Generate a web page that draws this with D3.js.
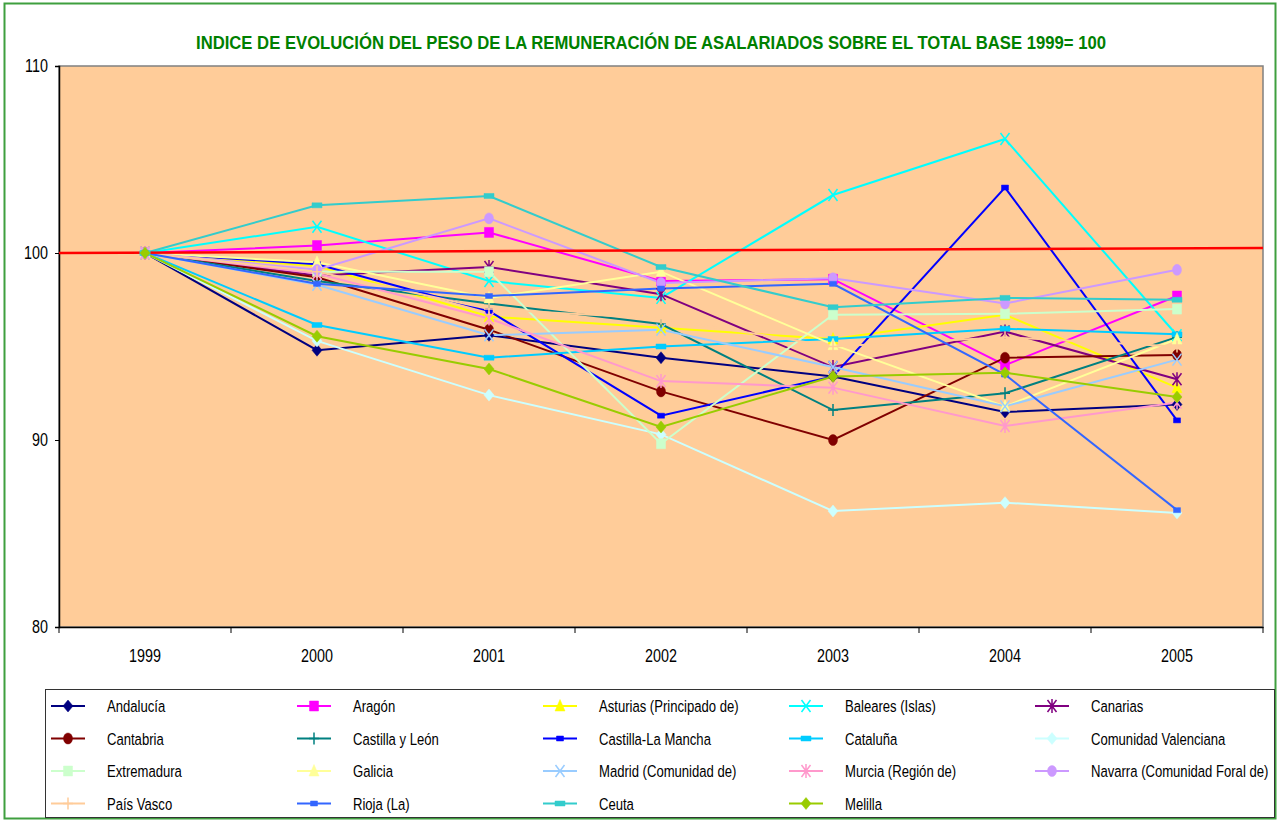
<!DOCTYPE html>
<html>
<head>
<meta charset="utf-8">
<script src="https://cdn.jsdelivr.net/npm/d3@7"></script>
<style>
  html, body { margin: 0; padding: 0; background: #fff; }
  svg { display: block; }
  text { font-family: "Liberation Sans", Arial, sans-serif; }
</style>
</head>
<body>
<svg id="chart" width="1279" height="821"></svg>
<script>
// --- Données ---
const years = ["1999", "2000", "2001", "2002", "2003", "2004", "2005"];
const yTicks = [80, 90, 100, 110];
const refLine = [100, 100.27];

const andalucia   = [100, 94.8, 95.6, 94.4, 93.4, 91.5, 91.9];
const aragon      = [100, 100.4, 101.1, 98.5, 98.6, 94.0, 97.7];
const asturias    = [100, 99.3, 96.6, 96.0, 95.4, 96.7, 92.8];
const baleares    = [100, 101.4, 98.5, 97.6, 103.1, 106.1, 95.6];
const canarias    = [100, 98.8, 99.25, 97.8, 93.9, 95.8, 93.25];
const cantabria   = [100, 98.7, 95.9, 92.6, 90.0, 94.4, 94.55];
const castillaLeon = [100, 98.5, 97.3, 96.2, 91.6, 92.5, 95.5];
const castillaMancha = [100, 99.4, 96.9, 91.3, 93.4, 103.5, 91.05];
const cataluna    = [100, 96.15, 94.4, 95.0, 95.4, 95.95, 95.65];
const valenciana  = [100, 95.3, 92.4, 90.3, 86.2, 86.65, 86.1];
const extremadura = [100, 99.0, 99.0, 89.8, 96.7, 96.75, 97.0];
const galicia     = [100, 99.5, 97.6, 99.0, 95.1, 91.8, 95.4];
const madrid      = [100, 98.3, 95.6, 95.9, 93.9, 91.8, 94.3];
const murcia      = [100, 98.9, 96.5, 93.15, 92.8, 90.75, 92.0];
const navarra     = [100, 99.1, 101.85, 98.4, 98.65, 97.3, 99.1];
const paisVasco   = [100, 99.0, 97.0, 96.5, 95.0, 95.5, 95.0];
const rioja       = [100, 98.35, 97.7, 98.1, 98.35, 93.5, 86.25];
const ceuta       = [100, 102.55, 103.05, 99.25, 97.1, 97.6, 97.5];
const melilla     = [100, 95.55, 93.8, 90.7, 93.4, 93.6, 92.3];

const series = [
  { name: "Andalucía", values: andalucia, color: "#000080", marker: "diamond" },
  { name: "Aragón", values: aragon, color: "#FF00FF", marker: "square" },
  { name: "Asturias (Principado de)", values: asturias, color: "#FFFF00", marker: "triangle" },
  { name: "Baleares (Islas)", values: baleares, color: "#00FFFF", marker: "x" },
  { name: "Canarias", values: canarias, color: "#800080", marker: "asterisk" },
  { name: "Cantabria", values: cantabria, color: "#800000", marker: "circle" },
  { name: "Castilla y León", values: castillaLeon, color: "#008080", marker: "plus" },
  { name: "Castilla-La Mancha", values: castillaMancha, color: "#0000FF", marker: "dashSmall" },
  { name: "Cataluña", values: cataluna, color: "#00CCFF", marker: "dash" },
  { name: "Comunidad Valenciana", values: valenciana, color: "#CCFFFF", marker: "diamond" },
  { name: "Extremadura", values: extremadura, color: "#CCFFCC", marker: "square" },
  { name: "Galicia", values: galicia, color: "#FFFF99", marker: "triangle" },
  { name: "Madrid (Comunidad de)", values: madrid, color: "#99CCFF", marker: "x" },
  { name: "Murcia (Región de)", values: murcia, color: "#FF99CC", marker: "asterisk" },
  { name: "Navarra (Comunidad Foral de)", values: navarra, color: "#CC99FF", marker: "circle" },
  { name: "País Vasco", values: paisVasco, color: "#FFCC99", marker: "plus" },
  { name: "Rioja (La)", values: rioja, color: "#3366FF", marker: "dashSmall" },
  { name: "Ceuta", values: ceuta, color: "#33CCCC", marker: "dash" },
  { name: "Melilla", values: melilla, color: "#99CC00", marker: "diamond" }
];

// Compression horizontale des textes (police étroite non disponible)
function narrow(sel, factor) {
  sel.each(function () {
    const t = d3.select(this);
    const x0 = +t.attr("x") || 0;
    t.attr("x", x0 / factor).attr("transform", `scale(${factor},1)`);
  });
}

// --- Mise en page ---
const svg = d3.select("#chart");
const plot = { left: 59, right: 1263, top: 66, bottom: 627 };

// Cadre extérieur vert
svg.append("rect")
  .attr("x", 4.5).attr("y", 3.5).attr("width", 1271).attr("height", 815)
  .attr("fill", "#fff").attr("stroke", "#3f9f3f").attr("stroke-width", 2);

const x = d3.scaleBand().domain(years).range([plot.left, plot.right]);
const xc = d => x(d) + x.bandwidth() / 2;
const y = d3.scaleLinear().domain([80, 110]).range([plot.bottom, plot.top]);

// Fond de la zone de tracé
svg.append("rect")
  .attr("x", plot.left).attr("y", plot.top)
  .attr("width", plot.right - plot.left).attr("height", plot.bottom - plot.top)
  .attr("fill", "#FFCC99").attr("stroke", "#808080").attr("stroke-width", 1.5);

// Titre
svg.append("text")
  .attr("x", 651).attr("y", 49)
  .attr("text-anchor", "middle")
  .attr("fill", "#008000")
  .attr("font-weight", "bold")
  .attr("font-size", 18.5)
  .attr("textLength", 910)
  .attr("lengthAdjust", "spacingAndGlyphs")
  .text("INDICE DE EVOLUCIÓN DEL PESO DE LA REMUNERACIÓN DE ASALARIADOS SOBRE EL TOTAL BASE 1999= 100");

// Axe Y
const yAxis = svg.append("g")
  .attr("transform", `translate(${plot.left},0)`)
  .call(d3.axisLeft(y).tickValues(yTicks).tickSize(4).tickPadding(7).tickFormat(d3.format("d")));
yAxis.select(".domain").attr("stroke", "#000").attr("stroke-width", 1.5);
yAxis.selectAll(".tick line").attr("stroke", "#000");
yAxis.selectAll("text").attr("font-size", 17.5).attr("fill", "#000")
  .style("font-family", "'Liberation Sans', Arial, sans-serif")
  .call(narrow, 0.82);

// Axe X (étiquettes centrées, graduations entre catégories)
const xAxis = svg.append("g")
  .attr("transform", `translate(0,${plot.bottom})`)
  .call(d3.axisBottom(x).tickSize(0).tickPadding(23));
xAxis.select(".domain").attr("stroke", "#000").attr("stroke-width", 1.5);
xAxis.selectAll("text").attr("font-size", 17.5).attr("fill", "#000")
  .style("font-family", "'Liberation Sans', Arial, sans-serif")
  .call(narrow, 0.82);

const boundaries = d3.range(years.length + 1).map(i => x.range()[0] + i * x.step());
svg.append("g").selectAll("line")
  .data(boundaries)
  .join("line")
  .attr("x1", d => d).attr("x2", d => d)
  .attr("y1", plot.bottom).attr("y2", plot.bottom + 6)
  .attr("stroke", "#000");

// Symboles
function markerPath(type) {
  switch (type) {
    case "diamond": return "M0,-6L5,0L0,6L-5,0Z";
    case "square": return "M-4.5,-5H4.5V5H-4.5Z";
    case "triangle": return "M0,-6.5L5,5L-5,5Z";
    case "circle": return "M-4.5,0A4.5,5.5 0 1,0 4.5,0A4.5,5.5 0 1,0 -4.5,0Z";
    case "x": return "M-4.5,-6L4.5,6M4.5,-6L-4.5,6";
    case "plus": return "M-5,0H5M0,-6V6";
    case "asterisk": return "M-4.5,-6L4.5,6M4.5,-6L-4.5,6M0,-7V7";
    case "dash": return "M-5,-2.5H5V2.5H-5Z";
    case "dashSmall": return "M-3.5,-2.5H3.5V2.5H-3.5Z";
  }
}
const isStroke = t => t === "x" || t === "plus" || t === "asterisk";

const line = d3.line().x((d, i) => xc(years[i])).y(d => y(d));

// Lignes
svg.append("g").selectAll("path")
  .data(series)
  .join("path")
  .attr("d", d => line(d.values))
  .attr("fill", "none")
  .attr("stroke", d => d.color)
  .attr("stroke-width", 2);

// Ligne de référence rouge
svg.append("line")
  .attr("x1", plot.left).attr("x2", plot.right)
  .attr("y1", y(refLine[0])).attr("y2", y(refLine[1]))
  .attr("stroke", "#FF0000").attr("stroke-width", 2.5);

// Marqueurs
const markerGroups = svg.append("g").selectAll("g")
  .data(series)
  .join("g");
markerGroups.selectAll("path")
  .data(s => s.values.map((v, i) => ({ v, i, s })))
  .join("path")
  .attr("transform", d => `translate(${xc(years[d.i])},${y(d.v)})`)
  .attr("d", d => markerPath(d.s.marker))
  .attr("fill", d => isStroke(d.s.marker) ? "none" : d.s.color)
  .attr("stroke", d => d.s.color)
  .attr("stroke-width", d => isStroke(d.s.marker) ? 1.5 : 0.5);

// --- Légende ---
svg.append("rect")
  .attr("x", 45.5).attr("y", 689.5).attr("width", 1229).attr("height", 128)
  .attr("fill", "#fff").attr("stroke", "#333").attr("stroke-width", 1);

const legendCols = 5, colStep = 246, rowStep = 32.5;
const legend = svg.append("g").selectAll("g")
  .data(series)
  .join("g")
  .attr("transform", (d, i) => `translate(${68 + (i % legendCols) * colStep},${706 + Math.floor(i / legendCols) * rowStep})`);

legend.append("line")
  .attr("x1", -17).attr("x2", 17)
  .attr("stroke", d => d.color).attr("stroke-width", 2);
legend.append("path")
  .attr("d", d => markerPath(d.marker))
  .attr("fill", d => isStroke(d.marker) ? "none" : d.color)
  .attr("stroke", d => d.color)
  .attr("stroke-width", d => isStroke(d.marker) ? 1.5 : 0.5);
legend.append("text")
  .attr("x", 39).attr("y", 6)
  .attr("font-size", 17)
  .attr("fill", "#000")
  .text(d => d.name)
  .call(narrow, 0.77);
</script>
</body>
</html>
